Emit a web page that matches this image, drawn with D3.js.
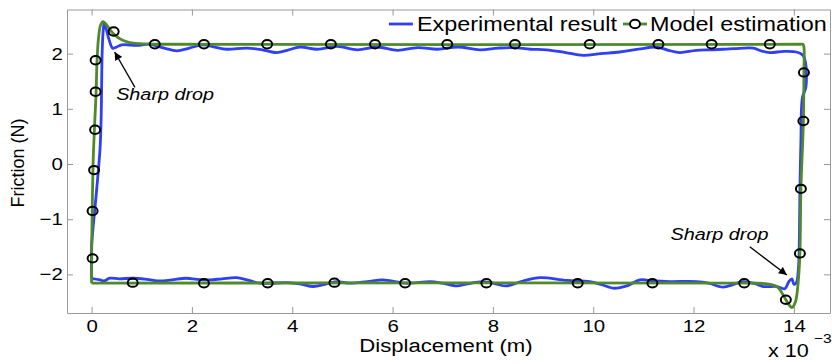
<!DOCTYPE html>
<html>
<head>
<meta charset="utf-8">
<script src="https://cdnjs.cloudflare.com/ajax/libs/d3/7.8.5/d3.min.js"></script>
<style>
  body { margin: 0; background: #fff; }
  text { font-family: 'Liberation Sans', Arial, sans-serif; fill: #000; }
</style>
</head>
<body>
<script>
var width = 832,
    height = 364;

var blueColor = '#2f3ff5',
    greenColor = '#4e8a2a',
    frameColor = '#999';

// the original figure is stretched sideways, text too
var stretch = 1.2;

var xTicks = [0, 2, 4, 6, 8, 10, 12, 14];
var yTicks = [-2, -1, 0, 1, 2];
var legendLabels = ['Experimental result', 'Model estimation'];

// experimental loop (displacement in 1e-3 m, friction in N)
var expX = [0.00, 0.00, 0.03, 0.07, 0.13, 0.17, 0.19, 0.20, 0.21, 0.23, 0.25, 0.29, 0.35, 0.42, 0.50, 0.60, 0.90,
  1.16, 1.45, 1.70, 1.95, 2.22, 2.45, 2.69, 3.09, 3.40, 3.69, 3.90, 4.15, 4.50, 4.90, 5.30, 5.70, 6.10, 6.50,
  6.90, 7.30, 7.74, 8.10, 8.40, 8.75, 9.07, 9.45, 9.80, 10.15, 10.53, 10.90, 11.26, 11.50, 11.73, 12.05, 12.39,
  12.80, 13.19, 13.35, 13.52, 13.80, 14.05, 14.18, 14.23, 14.24, 14.17, 14.14, 14.12, 14.11, 14.09, 14.05,
  14.00, 13.96, 13.90, 13.82, 13.66, 13.39, 13.20, 12.99, 12.80, 12.59, 12.30, 12.06, 11.53, 11.20, 10.93,
  10.70, 10.53, 10.40, 10.15, 9.93, 9.47, 8.94, 8.60, 8.27, 8.05, 7.80, 7.50, 7.28, 7.00, 6.74, 6.50, 6.25,
  5.81, 5.50, 5.15, 4.88, 4.65, 4.42, 4.15, 3.89, 3.36, 3.10, 2.89, 2.60, 2.36, 2.10, 1.89, 1.60, 1.36, 1.10,
  0.83, 0.55, 0.36, 0.25, 0.17, 0.05, 0.00];
var expY = [-2.08, -1.50, -1.15, -0.77, -0.17, 0.30, 0.80, 1.40, 2.00, 2.40, 2.55, 2.45, 2.25, 2.10, 2.12, 2.16, 2.15,
  2.17, 2.10, 2.05, 2.10, 2.16, 2.12, 2.08, 2.10, 2.07, 2.02, 2.06, 2.12, 2.08, 2.13, 2.07, 2.12, 2.06, 2.11,
  2.08, 2.12, 2.07, 2.10, 2.11, 2.08, 2.07, 2.02, 1.97, 2.00, 2.03, 2.08, 2.12, 2.06, 2.02, 2.06, 2.07,
  2.09, 2.10, 2.05, 2.02, 2.04, 2.03, 1.97, 1.85, 1.40, 1.20, 0.40, -0.50, -1.30, -1.90, -2.15,
  -2.18, -2.08, -2.13, -2.26, -2.22, -2.22, -2.16, -2.13, -2.18, -2.23, -2.16, -2.13, -2.13, -2.12, -2.10,
  -2.20, -2.24, -2.25, -2.18, -2.13, -2.11, -2.06, -2.12, -2.21, -2.17, -2.13, -2.17, -2.21, -2.16, -2.13, -2.15, -2.16,
  -2.10, -2.13, -2.16, -2.13, -2.18, -2.22, -2.17, -2.15, -2.16, -2.10, -2.06, -2.08, -2.10, -2.09, -2.07, -2.10, -2.12, -2.09,
  -2.07, -2.08, -2.07, -2.12, -2.10, -2.08, -2.08];

// model loop
var modX = [0.00, 0.00, 0.01, 0.03, 0.06, 0.09, 0.11, 0.14, 0.18, 0.23, 0.30, 0.38, 0.46, 0.60, 0.76, 0.96, 1.30,
  14.10, 14.18, 14.20, 14.20, 14.19, 14.14, 14.12, 14.08, 14.03, 13.96, 13.90, 13.84, 13.75, 13.66, 13.45,
  13.10, 0.10, 0.00];
var modY = [-2.16, -1.71, -1.00, 0.00, 0.70, 1.30, 1.90, 2.30, 2.52, 2.58, 2.52, 2.42, 2.34, 2.25, 2.20, 2.18, 2.17,
  2.17, 2.17, 2.12, 1.66, 0.78, -0.45, -1.62, -2.20, -2.50, -2.60, -2.55, -2.46, -2.32, -2.22, -2.17,
  -2.16, -2.16, -2.16];

// model markers
var markX = [0.44, 1.26, 2.24, 3.50, 4.77, 5.65, 7.09, 8.44, 9.93, 11.30, 12.36, 13.52,
  0.08, 0.08, 0.07, 0.05, 0.02, 0.02,
  14.20, 14.19, 14.14, 14.12, 13.84,
  0.82, 2.24, 3.51, 4.84, 6.25, 7.87, 9.69, 11.18, 13.01];
var markY = [2.40, 2.17, 2.17, 2.17, 2.17, 2.17, 2.17, 2.17, 2.17, 2.17, 2.17, 2.17,
  1.88, 1.31, 0.62, -0.11, -0.85, -1.71,
  1.66, 0.78, -0.45, -1.62, -2.46,
  -2.15, -2.16, -2.16, -2.15, -2.16, -2.16, -2.16, -2.16, -2.16];

// annotations
var noteText = ['Sharp drop', 'Sharp drop'];
var noteX = [0.49, 11.54],
    noteY = [1.16, -1.38];
var arrowFromX = [0.865, 13.12],
    arrowFromY = [1.39, -1.50];
var arrowToX = [0.46, 13.86],
    arrowToY = [2.03, -2.01];

var svg = d3.select('body')
      .append('svg')
      .attr('width', width)
      .attr('height', height);

var x = d3.scaleLinear().domain([-0.49, 14.72]).range([67, 830]);
var y = d3.scaleLinear().domain([-2.7, 2.8]).range([313, 9.5]);

function stext(sel, px, py) {
  return sel.attr('transform', 'translate(' + px + ',' + py + ') scale(' + stretch + ',1)');
}

// axes, ticks pointing inwards
function styleAxis(g) {
  g.attr('font-family', "'Liberation Sans', Arial, sans-serif")
    .attr('font-size', 17);
  g.selectAll('.domain').attr('stroke', frameColor).attr('stroke-width', 1);
  g.selectAll('.tick line').attr('stroke', frameColor);
  g.selectAll('.tick text').attr('fill', '#000');
}

svg.append('g')
  .attr('transform', 'translate(0,313)')
  .call(d3.axisBottom(x).tickValues(xTicks).tickSize(-6).tickSizeOuter(0).tickPadding(7).tickFormat(d3.format('d')))
  .call(styleAxis)
  .selectAll('.tick text')
  .attr('transform', 'scale(' + stretch + ',1)');

svg.append('g')
  .attr('transform', 'translate(0,9.5)')
  .call(d3.axisTop(x).tickValues(xTicks).tickSize(-6).tickSizeOuter(0).tickFormat(''))
  .call(styleAxis);

svg.append('g')
  .attr('transform', 'translate(67,0)')
  .call(d3.axisLeft(y).tickValues(yTicks).tickSize(-6).tickSizeOuter(0).tickPadding(3.5).tickFormat(d3.format('d')))
  .call(styleAxis)
  .selectAll('.tick text')
  .attr('transform', 'scale(' + stretch + ',1)');

svg.append('g')
  .attr('transform', 'translate(830,0)')
  .call(d3.axisRight(y).tickValues(yTicks).tickSize(-6).tickSizeOuter(0).tickFormat(''))
  .call(styleAxis);

// lines
var expLine = d3.line()
  .x(function(d, i) { return x(expX[i]); })
  .y(function(d, i) { return y(expY[i]); })
  .curve(d3.curveCatmullRom.alpha(0.5));

var modLine = d3.line()
  .x(function(d, i) { return x(modX[i]); })
  .y(function(d, i) { return y(modY[i]); })
  .curve(d3.curveCatmullRom.alpha(0.5));

svg.append('path')
  .attr('d', expLine(expX))
  .attr('fill', 'none')
  .attr('stroke', blueColor)
  .attr('stroke-width', 2.8)
  .attr('stroke-linejoin', 'round');

svg.append('path')
  .attr('d', modLine(modX))
  .attr('fill', 'none')
  .attr('stroke', greenColor)
  .attr('stroke-width', 2.8)
  .attr('stroke-linejoin', 'round');

svg.selectAll('.mark')
  .data(markX)
  .enter()
  .append('ellipse')
  .attr('class', 'mark')
  .attr('cx', function(d) { return x(d); })
  .attr('cy', function(d, i) { return y(markY[i]); })
  .attr('rx', 5)
  .attr('ry', 4.2)
  .attr('fill', 'none')
  .attr('stroke', '#000')
  .attr('stroke-width', 2);

// annotations
svg.append('defs')
  .append('marker')
  .attr('id', 'head')
  .attr('viewBox', '0 0 10 10')
  .attr('refX', 10)
  .attr('refY', 5)
  .attr('markerUnits', 'userSpaceOnUse')
  .attr('markerWidth', 10)
  .attr('markerHeight', 8)
  .attr('orient', 'auto')
  .append('path')
  .attr('d', 'M0,0 L10,5 L0,10 Z')
  .attr('fill', '#000');

noteText.forEach(function(t, i) {
  svg.append('line')
    .attr('x1', x(arrowFromX[i]))
    .attr('y1', y(arrowFromY[i]))
    .attr('x2', x(arrowToX[i]))
    .attr('y2', y(arrowToY[i]))
    .attr('stroke', '#000')
    .attr('stroke-width', 1.3)
    .attr('marker-end', 'url(#head)');
  svg.append('text')
    .call(stext, x(noteX[i]), y(noteY[i]))
    .style('font-size', '16.5px')
    .style('font-style', 'italic')
    .text(t);
});

// legend
var legY = 24;
svg.append('line')
  .attr('x1', 623).attr('x2', 647)
  .attr('y1', legY).attr('y2', legY)
  .attr('stroke', greenColor)
  .attr('stroke-width', 2.8);
svg.append('ellipse')
  .attr('cx', 635).attr('cy', legY)
  .attr('rx', 5).attr('ry', 4.2)
  .attr('fill', '#fff')
  .attr('stroke', '#000')
  .attr('stroke-width', 2);
svg.append('text')
  .call(stext, 650, 30.5)
  .style('font-size', '19.5px')
  .text(legendLabels[1]);

var expLabel = svg.append('text')
  .call(stext, 617, 30.5)
  .style('font-size', '19.5px')
  .attr('text-anchor', 'end')
  .text(legendLabels[0]);
var expStart = 617 - expLabel.node().getComputedTextLength() * stretch;
svg.append('line')
  .attr('x1', expStart - 28).attr('x2', expStart - 4)
  .attr('y1', legY).attr('y2', legY)
  .attr('stroke', blueColor)
  .attr('stroke-width', 2.8);

// axis titles
svg.append('text')
  .attr('transform', 'translate(446,352) scale(1.23,1)')
  .style('font-size', '18px')
  .attr('text-anchor', 'middle')
  .text('Displacement (m)');

svg.append('text')
  .attr('transform', 'translate(24,163) rotate(-90) scale(1,1.05)')
  .style('font-size', '18px')
  .attr('text-anchor', 'middle')
  .text('Friction (N)');

var expo = svg.append('text')
  .call(stext, 768, 357)
  .style('font-size', '18px');
expo.append('tspan').text('x 10');
svg.append('text')
  .call(stext, 814, 343)
  .style('font-size', '13px')
  .text('\u22123');
</script>
</body>
</html>
